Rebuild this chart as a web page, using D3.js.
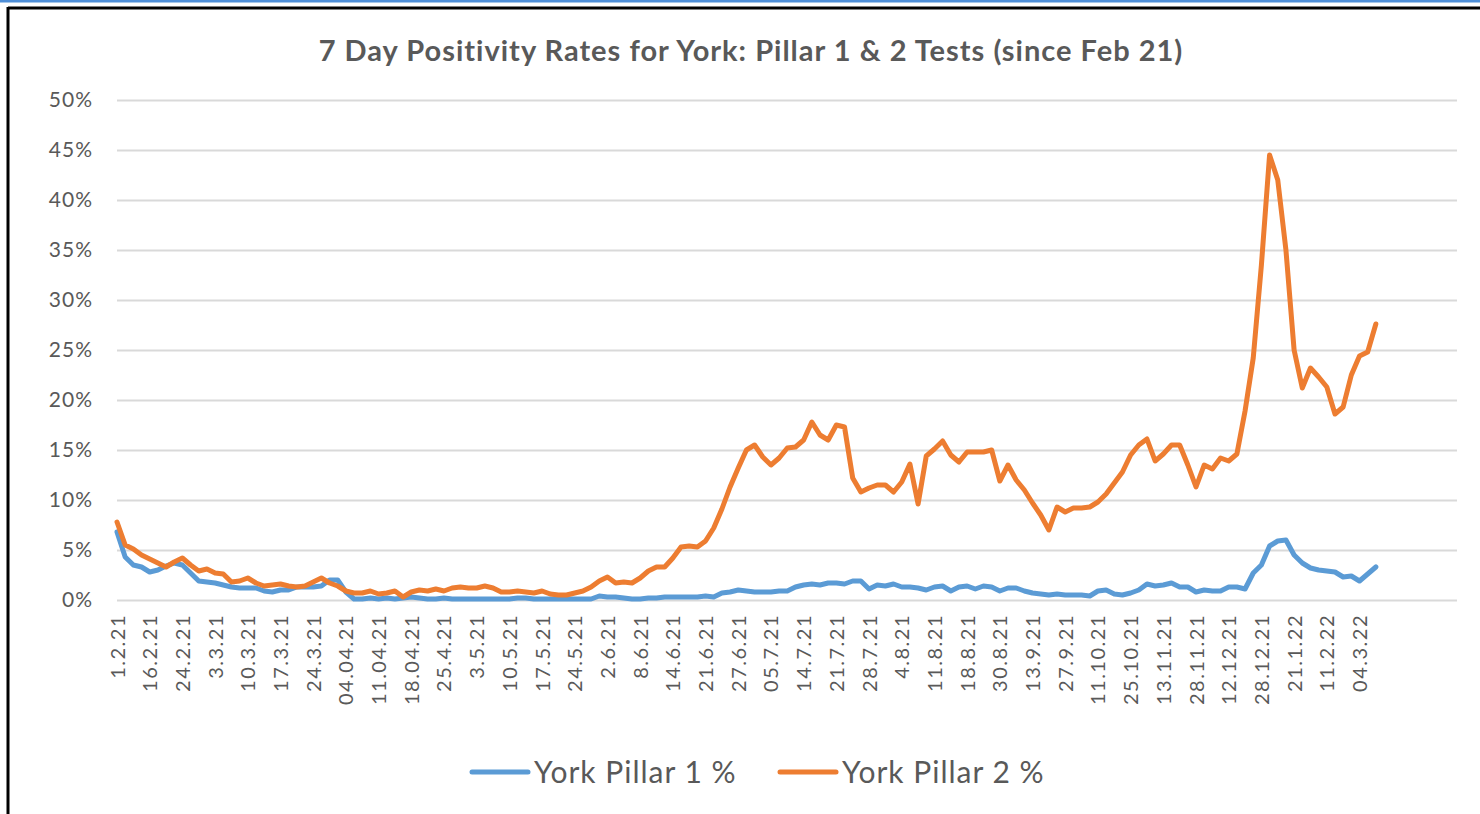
<!DOCTYPE html>
<html>
<head>
<meta charset="utf-8">
<script src="https://cdn.jsdelivr.net/npm/d3@7/dist/d3.min.js"></script>
<style>
  html, body { margin: 0; padding: 0; background: #fff; }
  svg { display: block; }
  text { font-family: Lato, "Open Sans", sans-serif; fill: #595959; }
</style>
</head>
<body>
<svg id="chart" width="1480" height="814"></svg>
<script>
const title = "7 Day Positivity Rates for York: Pillar 1 & 2 Tests (since Feb 21)";
const tickLabels = ["1.2.21","16.2.21","24.2.21","3.3.21","10.3.21","17.3.21","24.3.21","04.04.21","11.04.21","18.04.21","25.4.21","3.5.21","10.5.21","17.5.21","24.5.21","2.6.21","8.6.21","14.6.21","21.6.21","27.6.21","05.7.21","14.7.21","21.7.21","28.7.21","4.8.21","11.8.21","18.8.21","30.8.21","13.9.21","27.9.21","11.10.21","25.10.21","13.11.21","28.11.21","12.12.21","28.12.21","21.1.22","11.2.22","04.3.22"];
const seriesNames = ["York Pillar 1 %", "York Pillar 2 %"];
const yTicks = [0, 5, 10, 15, 20, 25, 30, 35, 40, 45, 50];
// values in %, 4 readings per labelled interval
const pillar1 = [6.8,4.3,3.5,3.3,2.8,3.0,3.4,3.7,3.5,2.7,1.9,1.8,1.7,1.5,1.3,1.2,1.2,1.2,0.9,0.8,
  1.0,1.0,1.3,1.3,1.3,1.4,2.0,2.0,0.8,0.1,0.1,0.2,0.1,0.2,0.1,0.2,0.3,0.2,0.1,0.1,
  0.2,0.1,0.1,0.1,0.1,0.1,0.1,0.1,0.1,0.2,0.2,0.1,0.1,0.1,0.1,0.1,0.1,0.1,0.1,0.4,
  0.3,0.3,0.2,0.1,0.1,0.2,0.2,0.3,0.3,0.3,0.3,0.3,0.4,0.3,0.7,0.8,1.0,0.9,0.8,0.8,
  0.8,0.9,0.9,1.3,1.5,1.6,1.5,1.7,1.7,1.6,1.9,1.9,1.1,1.5,1.4,1.6,1.3,1.3,1.2,1.0,
  1.3,1.4,0.9,1.3,1.4,1.1,1.4,1.3,0.9,1.2,1.2,0.9,0.7,0.6,0.5,0.6,0.5,0.5,0.5,0.4,
  0.9,1.0,0.6,0.5,0.7,1.0,1.6,1.4,1.5,1.7,1.3,1.3,0.8,1.0,0.9,0.9,1.3,1.3,1.1,2.7,
  3.5,5.4,5.9,6.0,4.5,3.7,3.2,3.0,2.9,2.8,2.3,2.4,1.9,2.6,3.3];
const pillar2 = [7.8,5.5,5.1,4.5,4.1,3.7,3.3,3.8,4.2,3.5,2.9,3.1,2.7,2.6,1.8,1.9,2.2,1.7,1.4,1.5,
  1.6,1.4,1.3,1.4,1.8,2.2,1.7,1.4,0.9,0.7,0.7,0.9,0.6,0.7,0.9,0.3,0.8,1.0,0.9,1.1,
  0.9,1.2,1.3,1.2,1.2,1.4,1.2,0.8,0.8,0.9,0.8,0.7,0.9,0.6,0.5,0.5,0.7,0.9,1.3,1.9,
  2.3,1.7,1.8,1.7,2.2,2.9,3.3,3.3,4.2,5.3,5.4,5.3,5.9,7.2,9.1,11.3,13.2,15.0,15.5,14.3,
  13.5,14.2,15.2,15.3,16.0,17.8,16.5,16.0,17.5,17.3,12.2,10.8,11.2,11.5,11.5,10.8,11.8,13.6,9.6,14.4,
  15.1,15.9,14.5,13.8,14.8,14.8,14.8,15.0,11.9,13.5,12.0,11.0,9.7,8.5,7.0,9.3,8.8,9.2,9.2,9.3,
  9.8,10.6,11.7,12.8,14.5,15.5,16.1,13.9,14.6,15.5,15.5,13.5,11.3,13.5,13.1,14.2,13.9,14.6,18.9,24.2,
  33.5,44.5,42.0,35.0,25.0,21.2,23.2,22.3,21.3,18.6,19.3,22.5,24.4,24.8,27.6];
const tickEvery = 4;
const colors = ["#5b9bd5", "#ed7d31"];

const svg = d3.select("#chart");
// frame
svg.append("rect").attr("x", 0).attr("y", 0).attr("width", 1480).attr("height", 2.5).attr("fill", "#4f8fd8");
svg.append("line").attr("x1", 8).attr("x2", 1480).attr("y1", 8).attr("y2", 8).attr("stroke", "#000").attr("stroke-width", 3);
svg.append("line").attr("x1", 8).attr("x2", 8).attr("y1", 7).attr("y2", 814).attr("stroke", "#000").attr("stroke-width", 3);

const plotLeft = 117, plotRight = 1457, plotTop = 100, plotBottom = 600;
const unit = (1359.5 - plotLeft) / ((tickLabels.length - 1) * tickEvery);
const x = d3.scaleLinear().domain([0, (plotRight - plotLeft) / unit]).range([plotLeft, plotRight]);
const y = d3.scaleLinear().domain([0, 50]).range([plotBottom, plotTop]);

// title
svg.append("text").attr("x", 751).attr("y", 61).attr("text-anchor", "middle")
  .style("font-size", "29px").style("font-weight", "bold").style("letter-spacing", "1px").text(title);

// gridlines + y labels
const yAxis = d3.axisLeft(y).tickValues(yTicks).tickSize(-(plotRight - plotLeft)).tickPadding(24).tickFormat(d => d + "%");
const gy = svg.append("g").attr("transform", `translate(${plotLeft},0)`).call(yAxis);
gy.select(".domain").remove();
gy.selectAll(".tick line").attr("stroke", "#d9d9d9").attr("stroke-width", 2);
gy.selectAll(".tick text").style("font-size", "21px").style("letter-spacing", "1px")
  .attr("fill", "#595959").attr("x", -24);

// x axis labels
const labelPositions = tickLabels.map((t, i) => i * tickEvery);
const xAxis = d3.axisBottom(x).tickValues(labelPositions).tickSize(0).tickFormat((d, i) => tickLabels[i]);
const gx = svg.append("g").attr("transform", `translate(0,${plotBottom})`).call(xAxis);
gx.select(".domain").remove();
gx.selectAll(".tick text")
  .style("font-size", "20px").style("letter-spacing", "1.5px").attr("fill", "#595959")
  .attr("text-anchor", "end").attr("dy", "0.35em")
  .attr("transform", "translate(0,14) rotate(-90)")
  .attr("x", 0).attr("y", 0);

// lines
const line = d3.line().x((d, i) => x(i)).y(d => y(d)).curve(d3.curveLinear);
[pillar1, pillar2].forEach((s, j) => {
  svg.append("path").datum(s).attr("fill", "none").attr("stroke", colors[j])
    .attr("stroke-width", 5).attr("stroke-linejoin", "round").attr("stroke-linecap", "round")
    .attr("d", line);
});

// legend
const legendItems = [{x: 472, name: seriesNames[0], c: colors[0]}, {x: 780, name: seriesNames[1], c: colors[1]}];
legendItems.forEach(l => {
  svg.append("line").attr("x1", l.x).attr("x2", l.x + 56).attr("y1", 772).attr("y2", 772)
    .attr("stroke", l.c).attr("stroke-width", 5).attr("stroke-linecap", "round");
  svg.append("text").attr("x", l.x + 62).attr("y", 783).style("font-size", "30px")
    .style("letter-spacing", "1px").text(l.name);
});
</script>
</body>
</html>
